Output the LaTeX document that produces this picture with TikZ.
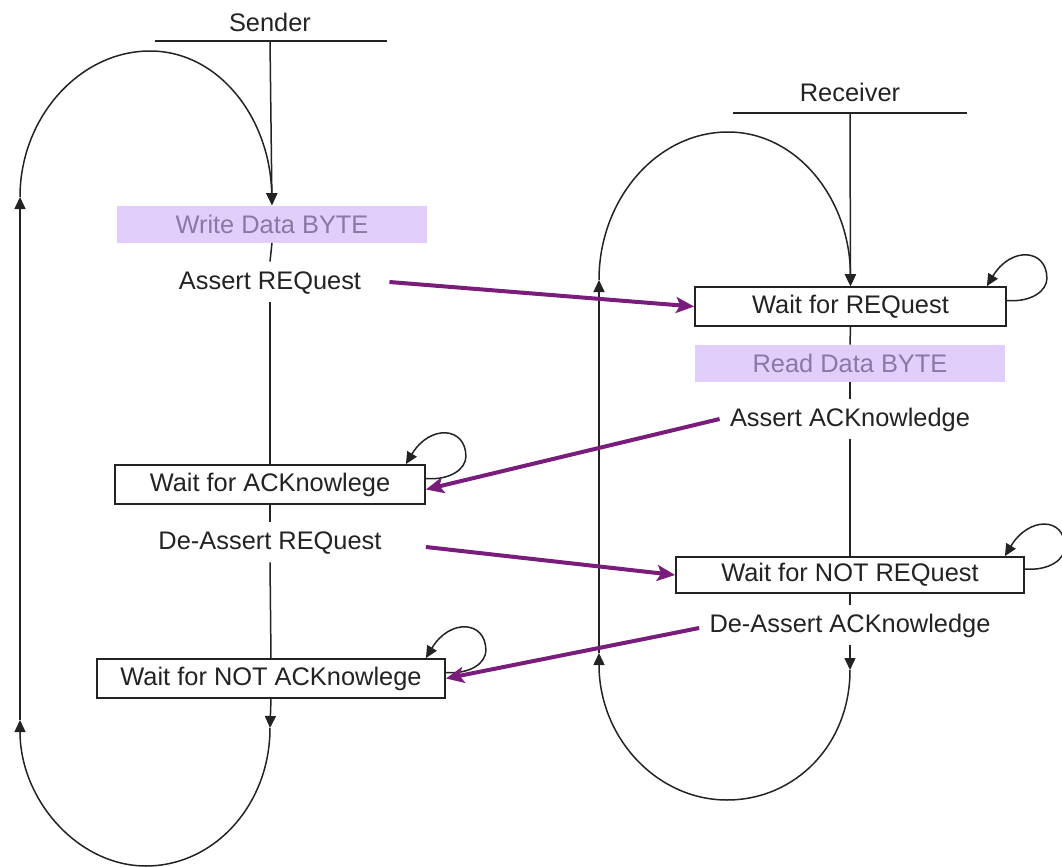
\documentclass[tikz,border=0pt]{standalone}
\usepackage{fontspec}
\setmainfont{Liberation Sans}
\usetikzlibrary{arrows.meta}
\definecolor{sigpurple}{RGB}{122,28,124}
\definecolor{datafill}{RGB}{226,206,250}
\definecolor{datatext}{RGB}{138,120,168}
\definecolor{ink}{RGB}{35,35,35}
\tikzset{
  every node/.style={font=\fontsize{12.7}{14}\selectfont, text=ink},
  statebox/.style={draw=ink, line width=0.9pt, fill=white, inner sep=0pt, minimum height=19.5pt},
  databox/.style={fill=datafill, inner sep=0pt, minimum height=18.5pt, text=datatext},
  label/.style={inner xsep=3pt, inner ysep=4pt, text height=9.5pt, text depth=2.5pt},
  flow/.style={draw=ink, line width=0.75pt},
  flowar/.style={flow, -{Triangle[length=6pt,width=5.5pt]}},
  sig/.style={draw=sigpurple, line width=2pt, -{Stealth[length=9pt,width=8pt,inset=2pt]}},
}
\newcommand\selfloop[1]{%
  \draw[flowar] ([yshift=3pt]#1.east) .. controls +(25,2) and +(0,12) .. ++(40,-22)
    .. controls +(0,-30) and +(24,-40) .. ([xshift=-10pt]#1.north east);}
\begin{document}
\begin{tikzpicture}[x=0.5pt,y=-0.5pt]
\useasboundingbox (0,0) rectangle (1062,867);
% ---------------- Sender ----------------
\node (sender) at (270,22) {Sender};
\coordinate (sL) at (155,41);
\coordinate (sR) at (387,41);
\coordinate (sM) at (270,41);
\draw[flow] (sL) -- (sR);
\node[databox, minimum width=155pt] (wdata) at (272,224) {Write Data BYTE};
\node[label] (areq) at (270,282) {Assert REQuest};
\node[statebox, minimum width=155pt] (wack) at (270,484.5) {Wait for ACKnowlege};
\node[label] (dreq) at (270,542) {De-Assert REQuest};
\node[statebox, minimum width=174pt] (wnack) at (271,678.5) {Wait for NOT ACKnowlege};
\coordinate (sBot) at (270,728);
\coordinate (sLB) at (20,720);
\coordinate (sLT) at (20,197);

\draw[flowar] (sM) -- (wdata.north);
\draw[flow] (wdata.south) -- (areq.north);
\draw[flow] (areq.south) -- (wack.north);
\draw[flow] (wack.south) -- (dreq.north);
\draw[flow] (dreq.south) -- (wnack.north);
\draw[flowar] (wnack.south) -- (sBot);
\draw[flowar] (sBot) .. controls (270,805) and (214,866) .. (146,866)
                     .. controls (78,866) and (20,800) .. (sLB);
\draw[flowar] (sLB) -- (sLT);
\draw[flowar] (sLT) .. controls (20,117) and (80,51) .. (150,51)
                    .. controls (218,51) and (270,117) .. (wdata.north);
\selfloop{wack}
\selfloop{wnack}

% ---------------- Receiver ----------------
\node (receiver) at (850,92) {Receiver};
\coordinate (rL) at (733,113);
\coordinate (rR) at (967,113);
\coordinate (rM) at (850,113);
\draw[flow] (rL) -- (rR);
\node[statebox, minimum width=155.5pt] (wreq) at (850.5,306.5) {Wait for REQuest};
\node[databox, minimum width=155pt] (rdata) at (850,363.5) {Read Data BYTE};
\node[label] (aack) at (850,419) {Assert ACKnowledge};
\node[statebox, minimum width=174pt, minimum height=18pt] (wnreq) at (850,575) {Wait for NOT REQuest};
\node[label] (dack) at (850,625) {De-Assert ACKnowledge};
\coordinate (rBot) at (850,670);
\coordinate (rLB) at (599,653);
\coordinate (rLT) at (599,280);

\draw[flowar] (rM) -- (wreq.north);
\draw[flow] (wreq.south) -- (rdata.north);
\draw[flow] (rdata.south) -- (aack.north);
\draw[flow] (aack.south) -- (wnreq.north);
\draw[flow] (wnreq.south) -- (dack.north);
\draw[flowar] (dack.south) -- (rBot);
\draw[flowar] (rBot) .. controls (850,745) and (795,800) .. (727,800)
                     .. controls (657,800) and (599,738) .. (rLB);
\draw[flowar] (rLB) -- (rLT);
\draw[flowar] (rLT) .. controls (599,199) and (657,132) .. (728,132)
                    .. controls (797,132) and (850,199) .. (wreq.north);
\selfloop{wreq}
\selfloop{wnreq}

% ---------------- Handshake signals ----------------
\draw[sig] ([xshift=11pt]areq.east) -- (wreq.west);
\draw[sig] ([xshift=-2pt]aack.west) -- ([yshift=-2.5pt]wack.east);
\draw[sig] ([xshift=19pt,yshift=-2.5pt]dreq.east) -- (wnreq.west);
\draw[sig] ([xshift=-2pt,yshift=-1.5pt]dack.west) -- (wnack.east);
\end{tikzpicture}
\end{document}
